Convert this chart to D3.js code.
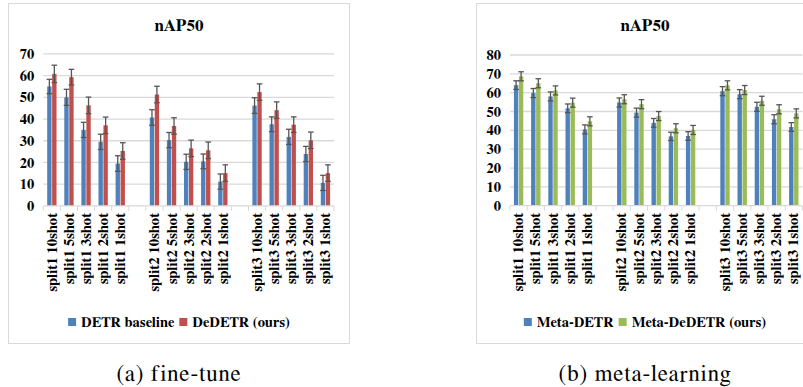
<!DOCTYPE html>
<html>
<head>
<meta charset="utf-8">
<script src="https://cdn.jsdelivr.net/npm/d3@7/dist/d3.min.js"></script>
<style>
  html, body { margin: 0; padding: 0; background: #fff; }
  svg { display: block; }
  .serif { font-family: "FreeSerif", "DejaVu Serif", serif; }
  .bold { font-weight: bold; fill: #000; }
</style>
</head>
<body>
<svg id="chart" width="803" height="387"></svg>
<script>
// ---------- DATA ----------
const categories = [
  "split1 10shot", "split1 5shot", "split1 3shot", "split1 2shot", "split1 1shot", "",
  "split2 10shot", "split2 5shot", "split2 3shot", "split2 2shot", "split2 1shot", "",
  "split3 10shot", "split3 5shot", "split3 3shot", "split3 2shot", "split3 1shot"
];

// (a) fine-tune
const detrBaseline    = [55.0, 50.0, 35.0, 29.5, 19.5, null, 40.7, 30.3, 20.3, 20.5, 11.2, null, 46.2, 37.6, 31.8, 23.9, 10.6];
const detrBaselineErr = [3.3, 3.7, 3.5, 3.5, 3.6, null, 3.6, 3.5, 3.5, 3.4, 3.5, null, 3.6, 3.4, 3.5, 3.5, 3.5];
const deDetr          = [60.8, 59.3, 46.3, 37.1, 25.3, null, 51.3, 36.8, 26.5, 25.6, 15.1, null, 52.4, 44.1, 37.4, 30.2, 15.1];
const deDetrErr       = [4.0, 3.6, 3.8, 3.8, 3.8, null, 3.8, 3.8, 3.8, 3.8, 3.8, null, 3.8, 3.8, 3.6, 3.8, 3.8];
const ticksA = [0, 10, 20, 30, 40, 50, 60, 70];

// (b) meta-learning
const metaDetr        = [64.0, 59.8, 58.0, 51.7, 40.5, null, 54.8, 49.4, 44.0, 36.8, 37.0, null, 60.8, 59.2, 52.5, 45.9, 41.8];
const metaDetrErr     = [2.3, 2.4, 2.4, 2.3, 2.4, null, 2.4, 2.4, 2.3, 2.2, 2.3, null, 2.4, 2.4, 2.4, 2.4, 2.3];
const metaDeDetr      = [68.7, 65.0, 61.2, 54.7, 44.8, null, 56.5, 53.9, 47.6, 41.1, 40.2, null, 63.9, 61.4, 55.7, 51.2, 49.0];
const metaDeDetrErr   = [2.4, 2.4, 2.4, 2.4, 2.4, null, 2.4, 2.4, 2.4, 2.4, 2.4, null, 2.4, 2.4, 2.4, 2.4, 2.4];
const ticksB = [0, 10, 20, 30, 40, 50, 60, 70, 80];

const titleText = "nAP50";
const legendA = ["DETR baseline", "DeDETR (ours)"];
const legendB = ["Meta-DETR", "Meta-DeDETR (ours)"];
const captions = ["(a) fine-tune", "(b) meta-learning"];

const BLUE = "#4F81BD", RED = "#C0504D", GREEN = "#9BBB59";

// ---------- DRAW ----------
const svg = d3.select("#chart");
svg.append("rect").attr("width", 803).attr("height", 387).attr("fill", "#fff");

function panel(opt) {
  const g = svg.append("g").attr("class", "serif");
  // frame
  g.append("rect")
    .attr("x", opt.frame[0] + 0.5).attr("y", opt.frame[1] + 0.5)
    .attr("width", opt.frame[2]).attr("height", opt.frame[3])
    .attr("fill", "none").attr("stroke", "#D9D9D9").attr("stroke-width", 1);

  // title
  g.append("text").attr("class", "bold").attr("x", opt.center).attr("y", 31)
    .attr("text-anchor", "middle")
    .attr("font-size", 17)
    .text(titleText);

  const x = d3.scaleBand().domain(d3.range(categories.length)).range(opt.xRange).padding(0);
  const y = d3.scaleLinear().domain([0, opt.ticks[opt.ticks.length - 1]]).range(opt.yRange);

  // gridlines
  g.append("g").selectAll("line").data(opt.ticks.filter(t => t > 0)).join("line")
    .attr("x1", opt.xRange[0]).attr("x2", opt.xRange[1])
    .attr("y1", d => y(d)).attr("y2", d => y(d))
    .attr("stroke", "#D9D9D9").attr("stroke-width", 1.3);

  // y tick labels
  g.append("g").selectAll("text").data(opt.ticks).join("text")
    .attr("class", "bold")
    .attr("x", opt.xRange[0] - 9).attr("y", d => y(d))
    .attr("dy", "0.35em").attr("text-anchor", "end")
    .attr("font-size", 14.5)
    .text(d => d);

  // bars
  const bw = x.bandwidth() * 0.255;
  const gap = 0.6;
  const series = [
    { vals: opt.s1, err: opt.e1, color: BLUE, off: -bw - gap / 2 },
    { vals: opt.s2, err: opt.e2, color: opt.color2, off: gap / 2 }
  ];
  series.forEach(s => {
    const idx = d3.range(categories.length).filter(i => s.vals[i] != null);
    g.append("g").selectAll("rect").data(idx).join("rect")
      .attr("x", i => x(i) + x.bandwidth() / 2 + s.off)
      .attr("y", i => y(s.vals[i]))
      .attr("width", bw)
      .attr("height", i => y(0) - y(s.vals[i]))
      .attr("fill", s.color);
  });
  // error bars
  series.forEach(s => {
    const idx = d3.range(categories.length).filter(i => s.vals[i] != null);
    const eg = g.append("g").attr("stroke", "#555").attr("stroke-width", 1.3);
    idx.forEach(i => {
      const cx = x(i) + x.bandwidth() / 2 + s.off + bw / 2;
      const y1 = y(s.vals[i] + s.err[i]), y2 = y(s.vals[i] - s.err[i]);
      eg.append("line").attr("x1", cx).attr("x2", cx).attr("y1", y1).attr("y2", y2);
      eg.append("line").attr("x1", cx - 2.8).attr("x2", cx + 2.8).attr("y1", y1).attr("y2", y1);
      eg.append("line").attr("x1", cx - 2.8).attr("x2", cx + 2.8).attr("y1", y2).attr("y2", y2);
    });
  });

  // x axis line + tick marks at slot boundaries
  g.append("line").attr("x1", opt.xRange[0]).attr("x2", opt.xRange[1])
    .attr("y1", y(0)).attr("y2", y(0)).attr("stroke", "#D9D9D9").attr("stroke-width", 1.3);
  const bounds = d3.range(categories.length + 1).map(i => opt.xRange[0] + i * x.step());
  g.append("g").selectAll("line").data(bounds).join("line")
    .attr("x1", d => d).attr("x2", d => d)
    .attr("y1", y(0)).attr("y2", y(0) + 5)
    .attr("stroke", "#D9D9D9").attr("stroke-width", 1);

  // category labels
  g.append("g").selectAll("text").data(d3.range(categories.length)).join("text")
    .attr("class", "bold")
    .attr("transform", i => `translate(${x(i) + x.bandwidth() / 2 + opt.labelShift},${y(0) + 7}) rotate(-90)`)
    .attr("text-anchor", "end")
    .attr("font-size", 14.8)
    .text(i => categories[i]);

  // legend (centered)
  const lg = g.append("g");
  const items = [{ t: opt.legend[0], c: BLUE }, { t: opt.legend[1], c: opt.color2 }];
  let cursor = 0;
  items.forEach((it, k) => {
    lg.append("rect").attr("x", cursor).attr("y", 318).attr("width", 8).attr("height", 8).attr("fill", it.c);
    cursor += 13;
    const t = lg.append("text").attr("class", "bold").attr("x", cursor).attr("y", 327)
      .attr("font-size", 14.5)
      .text(it.t);
    cursor += t.node().getComputedTextLength();
    if (k === 0) cursor += 5;
  });
  lg.attr("transform", `translate(${opt.center - cursor / 2},0)`);

  // caption
  svg.append("text").attr("class", "serif").attr("x", opt.center).attr("y", 381)
    .attr("text-anchor", "middle")
    .attr("font-size", 23).attr("letter-spacing", 0.9)
    .text(opt.caption);
}

panel({
  frame: [8, 3, 341, 340], center: 179,
  xRange: [43.3, 334], yRange: [205.9, 53.9], ticks: ticksA,
  s1: detrBaseline, e1: detrBaselineErr, s2: deDetr, e2: deDetrErr, color2: RED,
  legend: legendA, caption: captions[0], labelShift: 5
});
panel({
  frame: [476, 3, 340, 340], center: 645,
  xRange: [510, 802.4], yRange: [205.7, 55], ticks: ticksB,
  s1: metaDetr, e1: metaDetrErr, s2: metaDeDetr, e2: metaDeDetrErr, color2: GREEN,
  legend: legendB, caption: captions[1], labelShift: 4.5
});
</script>
</body>
</html>
